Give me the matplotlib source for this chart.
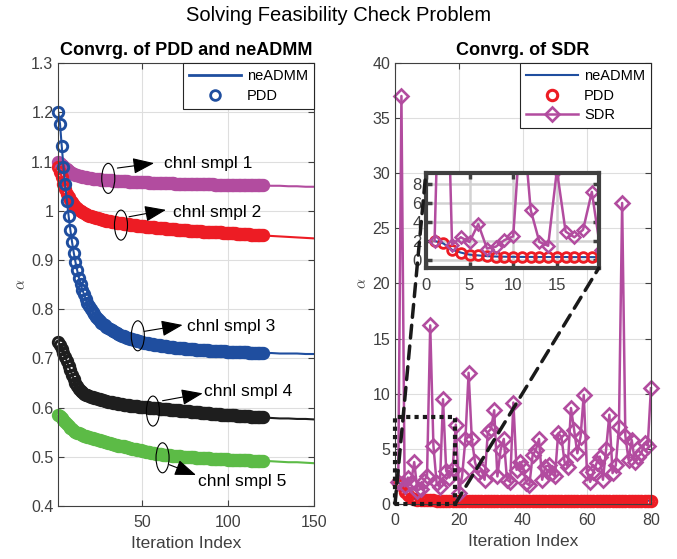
import numpy as np
import matplotlib.pyplot as plt
from matplotlib.patches import Ellipse, Rectangle, ConnectionPatch
from matplotlib.lines import Line2D
from matplotlib.ticker import FuncFormatter

plt.rcParams['font.family'] = ['Liberation Sans', 'DejaVu Sans']
plt.rcParams['mathtext.fontset'] = 'cm'

# ---- left panel: PDD alpha per iteration (1..120), five channel samples ----
pdd_ch1 = [1.100, 1.097, 1.094, 1.091, 1.088, 1.085, 1.082, 1.079, 1.077, 1.075,
           1.073, 1.072, 1.071, 1.070, 1.069, 1.068, 1.068, 1.067, 1.066, 1.066,
           1.065, 1.065, 1.064, 1.064, 1.064, 1.063, 1.063, 1.063, 1.062, 1.062,
           1.062, 1.062, 1.061, 1.061, 1.061, 1.061, 1.060, 1.060, 1.060, 1.060,
           1.060, 1.059, 1.059, 1.059, 1.059, 1.059, 1.058, 1.058, 1.058, 1.058,
           1.058, 1.058, 1.058, 1.057, 1.057, 1.057, 1.057, 1.057, 1.057, 1.057,
           1.056, 1.056, 1.056, 1.056, 1.056, 1.056, 1.056, 1.056, 1.055, 1.055,
           1.055, 1.055, 1.055, 1.055, 1.055, 1.055, 1.055, 1.055, 1.055, 1.054,
           1.054, 1.054, 1.054, 1.054, 1.054, 1.054, 1.054, 1.054, 1.054, 1.054,
           1.054, 1.053, 1.053, 1.053, 1.053, 1.053, 1.053, 1.053, 1.053, 1.053,
           1.053, 1.053, 1.053, 1.053, 1.053, 1.053, 1.052, 1.052, 1.052, 1.052,
           1.052, 1.052, 1.052, 1.052, 1.052, 1.052, 1.052, 1.052, 1.052, 1.052]
pdd_ch2 = [1.090, 1.080, 1.068, 1.055, 1.044, 1.035, 1.028, 1.022, 1.017, 1.012,
           1.008, 1.005, 1.002, 1.000, 0.998, 0.996, 0.994, 0.992, 0.990, 0.989,
           0.988, 0.987, 0.986, 0.985, 0.984, 0.983, 0.982, 0.981, 0.980, 0.979,
           0.979, 0.978, 0.977, 0.977, 0.976, 0.976, 0.975, 0.975, 0.974, 0.974,
           0.973, 0.973, 0.972, 0.972, 0.971, 0.971, 0.970, 0.970, 0.970, 0.969,
           0.969, 0.968, 0.968, 0.968, 0.967, 0.967, 0.967, 0.966, 0.966, 0.966,
           0.965, 0.965, 0.965, 0.964, 0.964, 0.964, 0.963, 0.963, 0.963, 0.962,
           0.962, 0.962, 0.962, 0.961, 0.961, 0.961, 0.960, 0.960, 0.960, 0.960,
           0.959, 0.959, 0.959, 0.959, 0.958, 0.958, 0.958, 0.958, 0.957, 0.957,
           0.957, 0.957, 0.956, 0.956, 0.956, 0.956, 0.955, 0.955, 0.955, 0.955,
           0.954, 0.954, 0.954, 0.954, 0.953, 0.953, 0.953, 0.953, 0.952, 0.952,
           0.952, 0.952, 0.951, 0.951, 0.951, 0.951, 0.951, 0.950, 0.950, 0.950]
pdd_ch3 = [1.200, 1.177, 1.132, 1.090, 1.054, 1.020, 0.990, 0.962, 0.937, 0.915,
           0.896, 0.879, 0.864, 0.851, 0.840, 0.830, 0.821, 0.813, 0.806, 0.800,
           0.795, 0.790, 0.785, 0.781, 0.777, 0.773, 0.770, 0.767, 0.764, 0.762,
           0.759, 0.757, 0.755, 0.753, 0.751, 0.749, 0.748, 0.746, 0.745, 0.743,
           0.742, 0.741, 0.740, 0.739, 0.738, 0.737, 0.736, 0.735, 0.734, 0.733,
           0.732, 0.732, 0.731, 0.730, 0.730, 0.729, 0.728, 0.728, 0.727, 0.727,
           0.726, 0.726, 0.725, 0.725, 0.724, 0.724, 0.723, 0.723, 0.722, 0.722,
           0.722, 0.721, 0.721, 0.721, 0.720, 0.720, 0.720, 0.719, 0.719, 0.719,
           0.718, 0.718, 0.718, 0.718, 0.717, 0.717, 0.717, 0.717, 0.716, 0.716,
           0.716, 0.716, 0.716, 0.715, 0.715, 0.715, 0.715, 0.715, 0.714, 0.714,
           0.714, 0.714, 0.714, 0.714, 0.713, 0.713, 0.713, 0.713, 0.713, 0.713,
           0.713, 0.712, 0.712, 0.712, 0.712, 0.712, 0.712, 0.712, 0.711, 0.711]
pdd_ch4 = [0.734, 0.728, 0.720, 0.712, 0.703, 0.694, 0.685, 0.676, 0.667, 0.659,
           0.651, 0.644, 0.638, 0.634, 0.631, 0.628, 0.626, 0.625, 0.623, 0.622,
           0.621, 0.620, 0.619, 0.618, 0.617, 0.616, 0.615, 0.614, 0.613, 0.612,
           0.611, 0.611, 0.610, 0.609, 0.609, 0.608, 0.607, 0.607, 0.606, 0.606,
           0.605, 0.605, 0.604, 0.604, 0.603, 0.603, 0.603, 0.602, 0.602, 0.602,
           0.601, 0.601, 0.601, 0.600, 0.600, 0.600, 0.599, 0.599, 0.599, 0.598,
           0.598, 0.598, 0.597, 0.597, 0.597, 0.596, 0.596, 0.596, 0.595, 0.595,
           0.595, 0.594, 0.594, 0.594, 0.593, 0.593, 0.593, 0.592, 0.592, 0.592,
           0.591, 0.591, 0.591, 0.590, 0.590, 0.590, 0.589, 0.589, 0.589, 0.588,
           0.588, 0.588, 0.587, 0.587, 0.587, 0.586, 0.586, 0.586, 0.585, 0.585,
           0.585, 0.584, 0.584, 0.584, 0.583, 0.583, 0.583, 0.583, 0.582, 0.582,
           0.582, 0.582, 0.581, 0.581, 0.581, 0.581, 0.580, 0.580, 0.580, 0.580]
pdd_ch5 = [0.585, 0.582, 0.578, 0.574, 0.570, 0.566, 0.562, 0.559, 0.556, 0.553,
           0.551, 0.549, 0.548, 0.546, 0.545, 0.543, 0.542, 0.541, 0.540, 0.539,
           0.538, 0.537, 0.536, 0.535, 0.534, 0.533, 0.532, 0.531, 0.530, 0.529,
           0.528, 0.527, 0.526, 0.525, 0.524, 0.523, 0.522, 0.521, 0.521, 0.520,
           0.519, 0.518, 0.517, 0.516, 0.516, 0.515, 0.514, 0.513, 0.513, 0.512,
           0.511, 0.510, 0.510, 0.509, 0.508, 0.508, 0.507, 0.506, 0.506, 0.505,
           0.505, 0.504, 0.504, 0.503, 0.503, 0.503, 0.502, 0.502, 0.502, 0.501,
           0.501, 0.501, 0.500, 0.500, 0.500, 0.500, 0.499, 0.499, 0.499, 0.499,
           0.498, 0.498, 0.498, 0.498, 0.497, 0.497, 0.497, 0.497, 0.497, 0.496,
           0.496, 0.496, 0.496, 0.496, 0.495, 0.495, 0.495, 0.495, 0.495, 0.494,
           0.494, 0.494, 0.494, 0.494, 0.494, 0.493, 0.493, 0.493, 0.493, 0.493,
           0.493, 0.493, 0.492, 0.492, 0.492, 0.492, 0.492, 0.492, 0.492, 0.492]

# neADMM keeps running after PDD stops
tail_iters = [125, 130, 135, 140, 145, 150]
admm_tail_ch1 = [1.051, 1.051, 1.050, 1.050, 1.049, 1.049]
admm_tail_ch2 = [0.949, 0.948, 0.947, 0.946, 0.945, 0.944]
admm_tail_ch3 = [0.711, 0.710, 0.710, 0.710, 0.709, 0.709]
admm_tail_ch4 = [0.579, 0.578, 0.578, 0.577, 0.577, 0.576]
admm_tail_ch5 = [0.491, 0.490, 0.489, 0.489, 0.488, 0.487]

channel_labels = ['chnl smpl 1', 'chnl smpl 2', 'chnl smpl 3', 'chnl smpl 4', 'chnl smpl 5']

# ---- right panel: iterations 1..80 ----
pdd_right = [2.00, 1.75, 1.08, 0.78, 0.56, 0.48, 0.40, 0.36, 0.34, 0.33,
             0.32, 0.32, 0.31, 0.31, 0.31, 0.31, 0.30, 0.30, 0.30, 0.30,
             0.30, 0.30, 0.30, 0.30, 0.30, 0.30, 0.30, 0.30, 0.30, 0.30,
             0.30, 0.30, 0.30, 0.30, 0.30, 0.30, 0.30, 0.30, 0.30, 0.30,
             0.30, 0.30, 0.30, 0.30, 0.30, 0.30, 0.30, 0.30, 0.30, 0.30,
             0.30, 0.30, 0.30, 0.30, 0.30, 0.30, 0.30, 0.30, 0.30, 0.30,
             0.30, 0.30, 0.30, 0.30, 0.30, 0.30, 0.30, 0.30, 0.30, 0.30,
             0.30, 0.30, 0.30, 0.30, 0.30, 0.30, 0.30, 0.30, 0.30, 0.30]
sdr_right = [2.0, 37.0, 1.6, 2.4, 1.9, 3.8, 1.2, 1.4, 2.1, 2.5,
             16.2, 5.3, 1.9, 1.5, 9.5, 3.0, 2.4, 3.2, 7.2, 1.0,
             2.6, 5.9, 11.9, 5.9, 3.8, 2.8, 3.1, 2.2, 6.5, 6.8,
             8.5, 2.5, 4.9, 5.9, 2.2, 2.0, 9.2, 3.1, 3.8, 3.4,
             1.9, 1.7, 4.4, 4.9, 5.9, 2.2, 3.4, 3.5, 2.8, 2.5,
             6.4, 6.1, 3.8, 3.4, 8.7, 6.7, 4.6, 6.1, 9.9, 2.9,
             2.0, 2.9, 3.7, 4.3, 2.2, 5.0, 8.1, 2.8, 3.5, 7.0,
             27.3, 6.2, 4.0, 5.8, 3.8, 4.3, 4.6, 5.5, 5.3, 10.5]

c_blue = '#1f4e9f'
c_red = '#ed1c24'
c_mag = '#b24c9f'
c_blk = '#1e1e1e'
c_grn = '#5cbb46'
axis_gray = '#404040'


def style_axes(ax):
    ax.grid(True, color='#dedede', lw=0.8)
    ax.set_axisbelow(True)
    ax.tick_params(direction='in', length=4, width=0.8, top=True, right=True,
                   colors=axis_gray, labelsize=11.5)
    ax.tick_params(axis='x', pad=6.5)
    for s in ax.spines.values():
        s.set_color(axis_gray)
        s.set_linewidth(0.8)


fig = plt.figure(figsize=(6.77, 5.59), dpi=100)
fig.suptitle('Solving Feasibility Check Problem', fontsize=14.5, y=0.972, va='center')

# ---------------- left panel ----------------
ax1 = fig.add_axes([0.0861, 0.0948, 0.378, 0.792])
style_axes(ax1)

iters = np.arange(1, 121)
left_series = [(pdd_ch1, admm_tail_ch1, c_mag),
               (pdd_ch2, admm_tail_ch2, c_red),
               (pdd_ch4, admm_tail_ch4, c_blk),
               (pdd_ch5, admm_tail_ch5, c_grn),
               (pdd_ch3, admm_tail_ch3, c_blue)]
for vals, tail, col in left_series:
    ax1.plot(np.r_[iters, tail_iters], np.r_[vals, tail], color=col, lw=1.5)
    ax1.plot(iters, vals, 'o', mfc='none', mec=col, ms=7.5, mew=2.1, clip_on=False)

ax1.set_xlim(1, 150)
ax1.set_ylim(0.4, 1.3)
ax1.set_xticks([50, 100, 150])
ax1.set_yticks(np.arange(0.4, 1.31, 0.1))
ax1.yaxis.set_major_formatter(FuncFormatter(lambda v, p: '%g' % round(v, 2)))
ax1.set_title('Convrg. of PDD and neADMM', fontsize=13, fontweight='bold', pad=6)
ax1.set_xlabel('Iteration Index', fontsize=12.5, color=axis_gray, labelpad=4)
ax1.set_ylabel(r'$\alpha$', fontsize=11, color=axis_gray, labelpad=2)

h1 = [Line2D([], [], color=c_blue, lw=2),
      Line2D([], [], ls='none', marker='o', mfc='none', mec=c_blue, ms=7, mew=2)]
leg1 = ax1.legend(h1, ['neADMM', 'PDD'], loc='upper right', bbox_to_anchor=(1, 1),
                  borderaxespad=0, fancybox=False, edgecolor='#262626', framealpha=1,
                  fontsize=10.5, handlelength=3.6, handletextpad=0.4, borderpad=0.4,
                  labelspacing=0.4)
leg1.get_frame().set_linewidth(0.8)

# ellipse + arrow callouts
ell_xy = [(30.1, 1.066), (37.5, 0.971), (47.3, 0.746), (56.1, 0.593), (61.7, 0.498)]
arrow_from = [(35.4, 1.087), (42.2, 0.988), (51.0, 0.755), (61.7, 0.614), (65.6, 0.484)]
arrow_to = [(56.8, 1.097), (63.7, 1.002), (73.4, 0.768), (85.1, 0.629), (81.2, 0.463)]
text_xy = [(62.7, 1.097), (68.0, 0.996), (76.0, 0.765), (85.7, 0.633), (82.2, 0.450)]
for (ex, ey), a0, a1, (tx, ty), lab in zip(ell_xy, arrow_from, arrow_to, text_xy, channel_labels):
    ax1.add_patch(Ellipse((ex, ey), 7.6, 0.061, fill=False, ec='k', lw=0.8, zorder=6))
    ax1.annotate('', xy=a1, xytext=a0,
                 arrowprops=dict(arrowstyle='-|>,head_length=1.2,head_width=0.45',
                                 color='k', lw=0.8, mutation_scale=11,
                                 shrinkA=0, shrinkB=0), zorder=6)
    ax1.text(tx, ty, lab, fontsize=12.5, ha='left', va='center', zorder=6)

# ---------------- right panel ----------------
ax2 = fig.add_axes([0.5835, 0.0984, 0.378, 0.789])
style_axes(ax2)

it_r = np.arange(1, 81)
ax2.plot(it_r, pdd_right, color=c_blue, lw=1.5, label='neADMM')
ax2.plot(it_r, pdd_right, 'o', mfc='none', mec=c_red, ms=7.5, mew=2.2, clip_on=False, label='PDD')
ax2.plot(it_r, sdr_right, '-D', color=c_mag, mfc='none', ms=7, mew=1.9, lw=1.8,
         clip_on=False, label='SDR')

ax2.set_xlim(0, 80)
ax2.set_ylim(0, 40)
ax2.set_xticks([0, 20, 40, 60, 80])
ax2.set_yticks(np.arange(0, 41, 5))
ax2.set_title('Convrg. of SDR', fontsize=13, fontweight='bold', pad=6)
ax2.set_xlabel('Iteration Index', fontsize=12.5, color=axis_gray, labelpad=4)
ax2.set_ylabel(r'$\alpha$', fontsize=11, color=axis_gray, labelpad=2)

leg2 = ax2.legend(loc='upper right', bbox_to_anchor=(1, 1), borderaxespad=0,
                  fancybox=False, edgecolor='#262626', framealpha=1, fontsize=10.5,
                  handlelength=3.6, handletextpad=0.4, borderpad=0.4, labelspacing=0.4)
leg2.get_frame().set_linewidth(0.8)
leg2.set_zorder(20)

# zoom region marker
ax2.add_patch(Rectangle((0, 0), 18.8, 7.9, fill=False, ec='#1a1a1a', lw=3,
                        ls=(0, (1, 1)), clip_on=False, zorder=8))

# ---------------- inset ----------------
axins = fig.add_axes([0.629, 0.5206, 0.2555, 0.170])
axins.plot(it_r, pdd_right, color=c_blue, lw=1.5)
axins.plot(it_r, pdd_right, 'o', mfc='none', mec=c_red, ms=7, mew=2)
axins.plot(it_r, sdr_right, '-D', color=c_mag, mfc='none', ms=6.5, mew=1.8, lw=1.8)
axins.set_xlim(0, 19.8)
axins.set_ylim(-0.85, 9.2)
axins.set_xticks([0, 5, 10, 15])
axins.set_yticks([0, 2, 4, 6, 8])
axins.grid(True, color='#d2d2d2', lw=1.8)
axins.set_axisbelow(True)
axins.tick_params(direction='in', length=4, width=2.5, top=True, right=True,
                  colors=axis_gray, labelsize=12, pad=3)
axins.tick_params(axis='x', pad=7)
for s in axins.spines.values():
    s.set_color(axis_gray)
    s.set_linewidth(3)

for xyA, xyB in [((0, 0), (0, 1)), ((18.8, 0), (1, 0))]:
    con = ConnectionPatch(xyA=xyA, coordsA=ax2.transData, xyB=xyB, coordsB=axins.transAxes,
                          color='#1a1a1a', lw=2.5, linestyle=(0, (3.7, 2.3)), zorder=7)
    fig.add_artist(con)

fig.savefig('out.png', dpi=100)
